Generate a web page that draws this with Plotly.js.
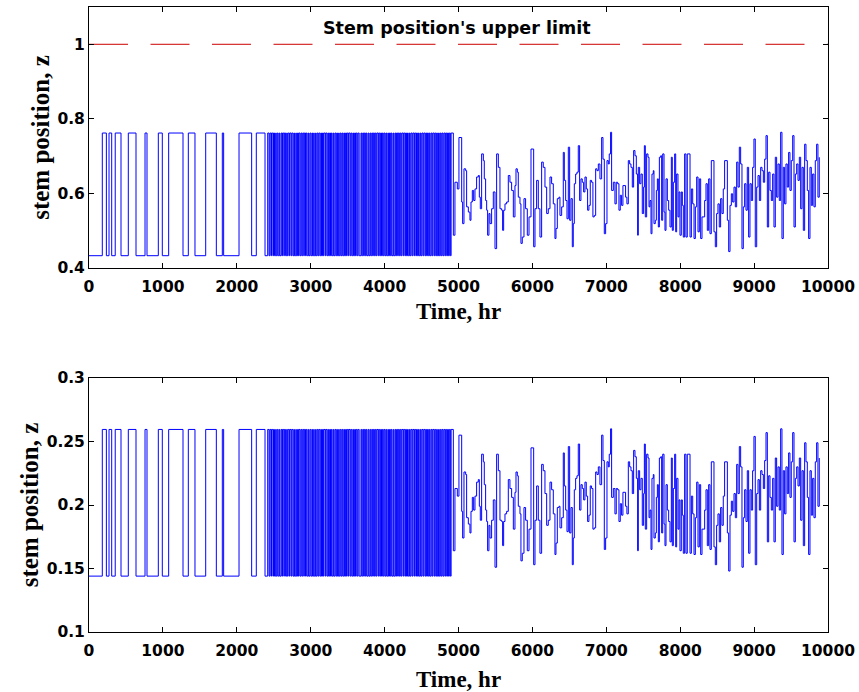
<!DOCTYPE html>
<html>
<head>
<meta charset="utf-8">
<script src="https://cdn.plot.ly/plotly-3.0.1.min.js"></script>
<style>html,body{margin:0;padding:0;background:#fff;}</style>
</head>
<body>
<div id="chart" style="width:859px;height:692px;"></div>
<script>
// ---- Data ----
// Square-wave phase: valve switching times (hr); the signal starts low and toggles at each time
const switchTimes = [180, 235, 271, 307, 355, 433, 532, 636, 758, 785, 938, 992, 1078, 1272, 1344, 1434, 1579, 1723, 1804, 1822, 2030, 2201, 2264, 2382, 2418,
 2436, 2447, 2462, 2470, 2488, 2497, 2510, 2526, 2534, 2548, 2560, 2575, 2583, 2600, 2611, 2619, 2636, 2644, 2660, 2675, 2684, 2695, 2712, 2720, 2736, 2745, 2760, 2772, 2780, 2798, 2806, 2822, 2834, 2843, 2857, 2869, 2880, 2892, 2906, 2914, 2930, 2940, 2952, 2968, 2976, 2990,
 3002, 3016, 3025, 3040, 3048, 3066, 3074, 3088, 3100, 3110, 3124, 3136, 3146, 3160, 3172, 3180, 3198, 3206, 3220, 3232, 3242, 3256, 3268, 3280, 3290, 3306, 3314, 3328, 3340, 3352, 3362, 3378, 3386, 3400, 3412, 3424, 3434, 3448, 3458, 3472, 3484, 3494, 3510, 3518, 3534, 3544, 3556, 3570, 3580, 3594, 3606, 3616, 3630, 3642, 3656, 3680, 3690, 3704, 3716, 3726, 3740, 3752, 3762, 3778, 3788, 3802, 3812, 3826, 3838, 3848, 3862, 3874, 3886, 3896, 3912, 3920, 3934, 3946, 3958, 3970, 3982, 3994,
 4006, 4018, 4028, 4044, 4052, 4066, 4078, 4090, 4100, 4116, 4124, 4140, 4150, 4162, 4176, 4186, 4200, 4212, 4224, 4234, 4250, 4258, 4274, 4284, 4296, 4310, 4320, 4336, 4346, 4358, 4372, 4382, 4398, 4406, 4422, 4432, 4444, 4458, 4468, 4484, 4494, 4506, 4520, 4530, 4546, 4556, 4568, 4580, 4592, 4606, 4616, 4630, 4642, 4652, 4668, 4678, 4692, 4704, 4714, 4730, 4740, 4754, 4766, 4778, 4790, 4802, 4816, 4826, 4840, 4852, 4864, 4876, 4890, 4900];
const topLow = 0.433, topHigh = 0.762;
const botLow = 0.144, botHigh = 0.2595;

// Continuous phase: times (hr) and readings for the two panels
const noisyTime = [4930, 4952, 4984, 5006, 5043, 5056, 5074, 5097, 5110, 5133, 5155, 5169, 5187, 5205, 5223, 5245, 5268, 5282, 5295, 5313, 5336, 5349, 5367, 5381, 5394, 5412, 5426, 5448, 5471, 5494, 5516, 5539, 5561, 5584, 5597, 5611, 5629, 5651, 5674, 5696, 5719, 5742, 5764, 5778, 5796, 5809, 5832, 5845, 5863, 5886, 5908, 5931, 5954, 5981, 6017, 6035, 6057, 6080, 6102, 6125, 6147, 6170, 6193, 6215, 6238, 6260, 6283, 6305, 6319, 6337, 6359, 6373, 6396, 6418, 6432, 6450, 6468, 6486, 6504, 6522, 6540, 6553, 6567, 6585, 6603, 6621, 6639, 6657, 6675, 6693, 6711, 6729, 6747, 6765, 6783, 6801, 6819, 6837, 6856, 6874, 6892, 6914, 6937, 6955, 6973, 6991, 7009, 7027, 7040, 7058, 7072, 7095, 7117, 7135, 7153, 7171, 7189, 7207, 7225, 7261, 7279, 7298, 7316, 7334, 7352, 7370, 7388, 7406, 7424, 7433, 7451, 7469, 7487, 7505,
 7515, 7528, 7546, 7564, 7578, 7591, 7605, 7618, 7636, 7645, 7663, 7677, 7691, 7704, 7718, 7736, 7749, 7763, 7781, 7794, 7808, 7826, 7844, 7862, 7880, 7893, 7907, 7925, 7939, 7952, 7970, 7984, 7997, 8015, 8029, 8042, 8060, 8078, 8096, 8133, 8151, 8169, 8187, 8205, 8223, 8241, 8259, 8277, 8295, 8331, 8349, 8367, 8385, 8403, 8421, 8457, 8475, 8493, 8511, 8529, 8547, 8565, 8583, 8601, 8638, 8656, 8674, 8692, 8710, 8728, 8746, 8764, 8782, 8800, 8818, 8836, 8854, 8872, 8890, 8908, 8926, 8944, 8962, 8980, 8998, 9016, 9035, 9053, 9071, 9089, 9107, 9125, 9143, 9161, 9179, 9197, 9215, 9233, 9251, 9269, 9287, 9305, 9323, 9341, 9359, 9377, 9395, 9413, 9431, 9449, 9467, 9485, 9503, 9522, 9540, 9558, 9576, 9594, 9612, 9630, 9648, 9666, 9684, 9702, 9720, 9738, 9756, 9774, 9792, 9810, 9828, 9846, 9864, 9882];
const noisyTop = [0.488, 0.630, 0.612, 0.750, 0.577, 0.519, 0.666, 0.661, 0.564, 0.550, 0.528, 0.577, 0.608, 0.581, 0.612, 0.644, 0.648, 0.590, 0.559, 0.706, 0.688, 0.639, 0.581, 0.555, 0.488, 0.546, 0.519, 0.559, 0.604, 0.452, 0.706, 0.670, 0.559, 0.555, 0.501, 0.555, 0.572, 0.577, 0.648, 0.630, 0.608, 0.537, 0.621, 0.666, 0.657, 0.590, 0.572, 0.466, 0.483, 0.586, 0.559, 0.488, 0.537, 0.719, 0.457, 0.559, 0.635, 0.559, 0.483, 0.684, 0.670, 0.617, 0.546, 0.559, 0.644, 0.626, 0.572, 0.479, 0.506, 0.586, 0.590, 0.541, 0.564, 0.710, 0.635, 0.581, 0.532, 0.724, 0.528, 0.586, 0.457, 0.519, 0.626, 0.652, 0.657, 0.728, 0.581, 0.639, 0.630, 0.604, 0.644, 0.612, 0.555, 0.568, 0.635, 0.630, 0.537, 0.541, 0.666, 0.661, 0.679, 0.639, 0.750, 0.692, 0.492, 0.519, 0.688, 0.679, 0.706, 0.764, 0.608, 0.630, 0.572, 0.630, 0.626, 0.555, 0.595, 0.568, 0.621, 0.590, 0.572, 0.688, 0.679, 0.670, 0.617, 0.715, 0.701, 0.652, 0.488, 0.670, 0.626, 0.652, 0.546, 0.617,
 0.728, 0.537, 0.706, 0.697, 0.564, 0.581, 0.492, 0.652, 0.661, 0.519, 0.528, 0.608, 0.639, 0.510, 0.697, 0.701, 0.528, 0.706, 0.550, 0.501, 0.639, 0.581, 0.555, 0.510, 0.697, 0.501, 0.630, 0.706, 0.497, 0.652, 0.537, 0.604, 0.488, 0.604, 0.568, 0.483, 0.706, 0.483, 0.706, 0.483, 0.612, 0.572, 0.479, 0.564, 0.644, 0.497, 0.639, 0.479, 0.537, 0.581, 0.626, 0.501, 0.639, 0.492, 0.688, 0.497, 0.457, 0.546, 0.572, 0.510, 0.586, 0.546, 0.612, 0.688, 0.528, 0.444, 0.568, 0.599, 0.577, 0.617, 0.564, 0.684, 0.617, 0.724, 0.679, 0.452, 0.564, 0.626, 0.555, 0.670, 0.483, 0.626, 0.581, 0.670, 0.746, 0.457, 0.617, 0.648, 0.581, 0.670, 0.661, 0.630, 0.692, 0.755, 0.510, 0.657, 0.608, 0.581, 0.652, 0.510, 0.697, 0.590, 0.679, 0.581, 0.764, 0.479, 0.670, 0.572, 0.679, 0.617, 0.710, 0.608, 0.688, 0.755, 0.510, 0.652, 0.679, 0.635, 0.697, 0.559, 0.670, 0.501, 0.732, 0.688, 0.608, 0.479, 0.670, 0.568, 0.652, 0.564, 0.688, 0.732, 0.590, 0.697];
const noisyBottom = [0.164, 0.213, 0.207, 0.255, 0.195, 0.174, 0.226, 0.224, 0.190, 0.185, 0.178, 0.195, 0.206, 0.196, 0.207, 0.218, 0.220, 0.199, 0.188, 0.240, 0.234, 0.216, 0.196, 0.187, 0.164, 0.184, 0.174, 0.188, 0.204, 0.151, 0.240, 0.227, 0.188, 0.187, 0.168, 0.187, 0.193, 0.195, 0.220, 0.213, 0.206, 0.181, 0.210, 0.226, 0.223, 0.199, 0.193, 0.156, 0.162, 0.198, 0.188, 0.164, 0.181, 0.245, 0.153, 0.188, 0.215, 0.188, 0.162, 0.232, 0.227, 0.209, 0.184, 0.188, 0.218, 0.212, 0.193, 0.161, 0.170, 0.198, 0.199, 0.182, 0.190, 0.241, 0.215, 0.196, 0.179, 0.246, 0.178, 0.198, 0.153, 0.174, 0.212, 0.221, 0.223, 0.248, 0.196, 0.216, 0.213, 0.204, 0.218, 0.207, 0.187, 0.192, 0.215, 0.213, 0.181, 0.182, 0.226, 0.224, 0.230, 0.216, 0.255, 0.235, 0.165, 0.174, 0.234, 0.230, 0.240, 0.260, 0.206, 0.213, 0.193, 0.213, 0.212, 0.187, 0.201, 0.192, 0.210, 0.199, 0.193, 0.234, 0.230, 0.227, 0.209, 0.243, 0.238, 0.221, 0.164, 0.227, 0.212, 0.221, 0.184, 0.209,
 0.248, 0.181, 0.240, 0.237, 0.190, 0.196, 0.165, 0.221, 0.224, 0.174, 0.178, 0.206, 0.216, 0.171, 0.237, 0.238, 0.178, 0.240, 0.185, 0.168, 0.216, 0.196, 0.187, 0.171, 0.237, 0.168, 0.213, 0.240, 0.167, 0.221, 0.181, 0.204, 0.164, 0.204, 0.192, 0.162, 0.240, 0.162, 0.240, 0.162, 0.207, 0.193, 0.161, 0.190, 0.218, 0.167, 0.216, 0.161, 0.181, 0.196, 0.212, 0.168, 0.216, 0.165, 0.234, 0.167, 0.153, 0.184, 0.193, 0.171, 0.198, 0.184, 0.207, 0.234, 0.178, 0.148, 0.192, 0.203, 0.195, 0.209, 0.190, 0.232, 0.209, 0.246, 0.230, 0.151, 0.190, 0.212, 0.187, 0.227, 0.162, 0.212, 0.196, 0.227, 0.254, 0.153, 0.209, 0.220, 0.196, 0.227, 0.224, 0.213, 0.235, 0.257, 0.171, 0.223, 0.206, 0.196, 0.221, 0.171, 0.237, 0.199, 0.230, 0.196, 0.260, 0.161, 0.227, 0.193, 0.230, 0.209, 0.241, 0.206, 0.234, 0.257, 0.171, 0.221, 0.230, 0.215, 0.237, 0.188, 0.227, 0.168, 0.249, 0.234, 0.206, 0.161, 0.227, 0.192, 0.221, 0.190, 0.234, 0.249, 0.199, 0.237];

const upperLimit = 1;
const limitX = [0, 10000];
const xTicks = [0, 1000, 2000, 3000, 4000, 5000, 6000, 7000, 8000, 9000, 10000];
const xTickText = ['0', '1000', '2000', '3000', '4000', '5000', '6000', '7000', '8000', '9000', '10000'];
const topTicks = [0.4, 0.6, 0.8, 1];
const topTickText = ['0.4', '0.6', '0.8', '1'];
const botTicks = [0.1, 0.15, 0.2, 0.25, 0.3];
const botTickText = ['0.1', '0.15', '0.2', '0.25', '0.3'];
const xLabel = 'Time, hr';
const yLabel = 'stem position, z';
const limitLabel = "Stem position's upper limit";

// ---- Build series ----
function buildSeries(low, high, noisyVals) {
  const x = [0], y = [low];
  switchTimes.forEach((t, i) => { x.push(t); y.push(i % 2 === 0 ? high : low); });
  noisyTime.forEach((t, i) => { x.push(t); y.push(noisyVals[i]); });
  return {x, y};
}
const sTop = buildSeries(topLow, topHigh, noisyTop);
const sBot = buildSeries(botLow, botHigh, noisyBottom);

const lineStyle = {color: '#0000ff', width: 1, shape: 'hv'};
const traces = [
  {x: sTop.x, y: sTop.y, type: 'scatter', mode: 'lines', line: lineStyle, xaxis: 'x', yaxis: 'y', hoverinfo: 'skip'},
  {x: limitX, y: [upperLimit, upperLimit], type: 'scatter', mode: 'lines', line: {color: '#cc0000', width: 1, dash: '39px,22.5px'}, xaxis: 'x', yaxis: 'y', hoverinfo: 'skip'},
  {x: sBot.x, y: sBot.y, type: 'scatter', mode: 'lines', line: lineStyle, xaxis: 'x2', yaxis: 'y2', hoverinfo: 'skip'}
];

const tickFont = {family: 'DejaVu Sans', size: 15.5, weight: 'bold', color: '#000'};
const xTitleFont = {family: 'Liberation Serif', size: 23, weight: 'bold', color: '#000'};
const yTitleFont = {family: 'Liberation Serif', size: 25, weight: 'bold', color: '#000'};
const axCommon = {
  ticks: 'inside', ticklen: 5, tickwidth: 1, tickcolor: '#000',
  showline: true, linecolor: '#000', linewidth: 1, mirror: 'ticks',
  showgrid: false, zeroline: false, tickfont: tickFont, fixedrange: true
};

const layout = {
  width: 859, height: 692,
  margin: {l: 89, r: 31, t: 7, b: 60},
  paper_bgcolor: '#fff', plot_bgcolor: '#fff', showlegend: false,
  xaxis: Object.assign({}, axCommon, {domain: [0, 1], anchor: 'y', range: [0, 10000], tickvals: xTicks, ticktext: xTickText,
    ticklabelstandoff: 4, title: {text: xLabel, font: xTitleFont, standoff: 8}}),
  yaxis: Object.assign({}, axCommon, {domain: [0.5824, 1], anchor: 'x', range: [0.4, 1.1], tickvals: topTicks, ticktext: topTickText,
    title: {text: yLabel, font: yTitleFont, standoff: 0}}),
  xaxis2: Object.assign({}, axCommon, {domain: [0, 1], anchor: 'y2', range: [0, 10000], tickvals: xTicks, ticktext: xTickText,
    ticklabelstandoff: 4, title: {text: xLabel, font: xTitleFont, standoff: 13}}),
  yaxis2: Object.assign({}, axCommon, {domain: [0, 0.4064], anchor: 'x2', range: [0.1, 0.3], tickvals: botTicks, ticktext: botTickText,
    title: {text: yLabel, font: yTitleFont, standoff: 0}}),
  annotations: [{xref: 'x', yref: 'y', x: 4980, y: 1.043, text: limitLabel, showarrow: false,
    font: {family: 'DejaVu Sans', size: 17.5, weight: 'bold', color: '#000'}, xanchor: 'center', yanchor: 'middle'}]
};

Plotly.newPlot('chart', traces, layout, {staticPlot: true, displayModeBar: false});
</script>
</body>
</html>
